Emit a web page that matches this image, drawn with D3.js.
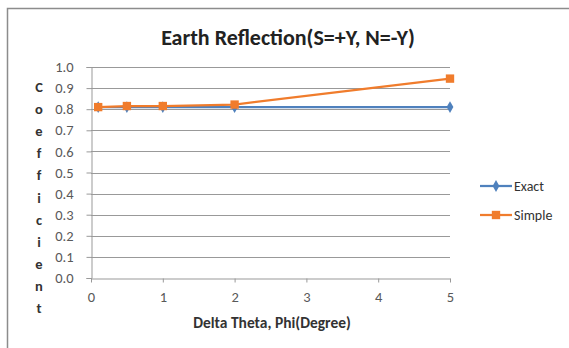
<!DOCTYPE html>
<html>
<head>
<meta charset="utf-8">
<script src="https://cdn.jsdelivr.net/npm/d3@7"></script>
<style>
  body { margin: 0; background: #fff; }
  text { font-family: Calibri, Carlito, Lato, sans-serif; }
</style>
</head>
<body>
<div class="chart"></div>
<script>
var xValues = [0.1, 0.5, 1, 2, 5];
var exactValues = [0.81, 0.81, 0.81, 0.81, 0.81];
var simpleValues = [0.81, 0.815, 0.815, 0.822, 0.945];
var yTicks = [0, 0.1, 0.2, 0.3, 0.4, 0.5, 0.6, 0.7, 0.8, 0.9, 1.0];
var xTicks = [0, 1, 2, 3, 4, 5];
var yTitleLetters = "Coefficient".split("");

var width = 569, height = 348;
var plot = {left: 91, right: 450, top: 67, bottom: 278};

var svg = d3.select(".chart").append("svg")
    .attr("width", width)
    .attr("height", height);

// chart frame (only top and left edges visible)
svg.append("path")
    .attr("d", "M7.5," + height + "V8.5H" + width)
    .attr("fill", "none")
    .attr("stroke", "#8c8c8c")
    .attr("stroke-width", 1.5);

var x = d3.scaleLinear().domain([0, 5]).range([plot.left, plot.right]);
var y = d3.scaleLinear().domain([0, 1]).range([plot.bottom, plot.top]);

// gridlines
svg.append("g").selectAll("line")
    .data(yTicks.slice(1))
    .enter().append("line")
    .attr("x1", plot.left).attr("x2", plot.right)
    .attr("y1", function(d) { return Math.round(y(d)) + 0.5; })
    .attr("y2", function(d) { return Math.round(y(d)) + 0.5; })
    .attr("stroke", "#999")
    .attr("stroke-width", 1);

// y axis
var yAxis = svg.append("g")
    .attr("transform", "translate(" + (plot.left + 0.5) + ",0)")
    .call(d3.axisLeft(y).tickValues(yTicks).tickSize(5).tickPadding(13)
        .tickFormat(d3.format(".1f")));
yAxis.select(".domain").attr("stroke", "#999");
yAxis.selectAll(".tick line").attr("stroke", "#999");
yAxis.selectAll("text").attr("fill", "#595959").style("font-size", "14.5px");

// x axis
var xAxis = svg.append("g")
    .attr("transform", "translate(0," + (plot.bottom + 0.5) + ")")
    .call(d3.axisBottom(x).tickValues(xTicks).tickSize(4).tickPadding(9)
        .tickSizeOuter(0).tickFormat(d3.format("d")));
xAxis.select(".domain").attr("stroke", "#999");
xAxis.selectAll(".tick line").attr("stroke", "#999");
xAxis.selectAll("text").attr("fill", "#595959").style("font-size", "14.5px");

// titles
svg.append("text")
    .attr("x", 288).attr("y", 45)
    .attr("text-anchor", "middle")
    .style("font-size", "22px").style("font-weight", "bold")
    .attr("fill", "#222")
    .text("Earth Reflection(S=+Y, N=-Y)");

svg.append("text")
    .attr("x", 272).attr("y", 328)
    .attr("text-anchor", "middle")
    .style("font-size", "15.5px").style("font-weight", "bold")
    .attr("fill", "#333")
    .text("Delta Theta, Phi(Degree)");

svg.append("g").selectAll("text")
    .data(yTitleLetters)
    .enter().append("text")
    .attr("x", 39)
    .attr("y", function(d, i) { return 92 + i * 22.1; })
    .attr("text-anchor", "middle")
    .style("font-size", "14.5px").style("font-weight", "bold")
    .attr("fill", "#333")
    .text(function(d) { return d; });

// series
var series = [
    {name: "Exact", values: exactValues, color: "#4f81bd", shape: d3.symbolDiamond, size: 40},
    {name: "Simple", values: simpleValues, color: "#f07c2c", shape: d3.symbolSquare, size: 70}
];

var line = d3.line()
    .x(function(d) { return x(d[0]); })
    .y(function(d) { return y(d[1]); });

series.forEach(function(s) {
    var pts = xValues.map(function(v, i) { return [v, s.values[i]]; });
    svg.append("path")
        .datum(pts)
        .attr("d", line)
        .attr("fill", "none")
        .attr("stroke", s.color)
        .attr("stroke-width", 2.25);
    svg.append("g").selectAll("path")
        .data(pts)
        .enter().append("path")
        .attr("transform", function(d) { return "translate(" + x(d[0]) + "," + y(d[1]) + ")"; })
        .attr("d", d3.symbol().type(s.shape).size(s.size))
        .attr("fill", s.color);
});

// legend
var legend = svg.append("g").selectAll("g")
    .data(series)
    .enter().append("g")
    .attr("transform", function(d, i) { return "translate(480," + (186 + i * 29) + ")"; });
legend.append("line")
    .attr("x1", 0).attr("x2", 32)
    .attr("stroke", function(d) { return d.color; })
    .attr("stroke-width", 2.25);
legend.append("path")
    .attr("transform", "translate(16,0)")
    .attr("d", function(d) { return d3.symbol().type(d.shape).size(d.size)(); })
    .attr("fill", function(d) { return d.color; });
legend.append("text")
    .attr("x", 34).attr("y", 5)
    .style("font-size", "14px")
    .attr("fill", "#333")
    .text(function(d) { return d.name; });
</script>
</body>
</html>
